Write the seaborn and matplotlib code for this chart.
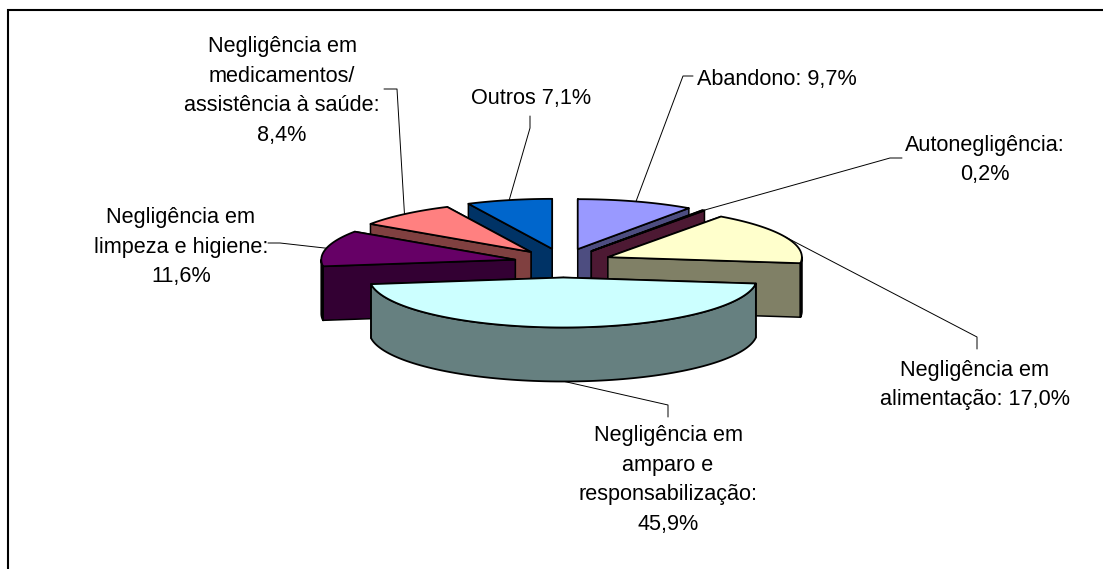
import numpy as np
import seaborn as sns
import matplotlib.pyplot as plt

# share of each slice, clockwise from the top
categories = ['Abandono', 'Autonegligência', 'Negligência em alimentação',
              'Negligência em amparo e responsabilização',
              'Negligência em limpeza e higiene',
              'Negligência em medicamentos/assistência à saúde', 'Outros']
values = [9.7, 0.2, 17.0, 45.9, 11.6, 8.4, 7.1]
labels = ['Abandono: 9,7%', 'Autonegligência:\n0,2%',
          'Negligência em\nalimentação: 17,0%',
          'Negligência em\namparo e\nresponsabilização:\n45,9%',
          'Negligência em\nlimpeza e higiene:\n11,6%',
          'Negligência em\nmedicamentos/\nassistência à saúde:\n8,4%',
          'Outros 7,1%']
top_colors = ['#9999FF', '#993366', '#FFFFCC', '#CCFFFF', '#660066', '#FF8080', '#0066CC']
side_colors = ['#4D4D80', '#4D1933', '#808066', '#668080', '#330033', '#804040', '#003366']

# pie geometry, in pixels
cx, cy = 563, 263
rx, ry = 194, 50
depth = 54
explode_x, explode_y = 49, 14.5

label_pos = [(777, 79), (985, 160), (975, 385), (668, 480), (181, 247), (282, 91), (531, 98)]
leaders = [[(693, 76), (683, 76)], [(902, 158), (890, 158)], [(977, 349), (977, 337)],
           [(668, 417), (668, 405)], [(268, 243), (280, 243)], [(384, 89), (397, 89)],
           [(530, 116), (530, 128)]]

sns.set_theme(style="white")
plt.rcParams['font.family'] = ['Liberation Sans', 'DejaVu Sans']

fig = plt.figure(figsize=(11.03, 5.69), dpi=100)
ax = fig.add_axes([0, 0, 1, 1])
ax.set_xlim(0, 1103)
ax.set_ylim(569, 0)
ax.axis('off')

# the frame is cut off on the right and at the bottom
ax.plot([8, 8, 1103], [569, 10, 10], color='black', lw=1.5, solid_joinstyle='miter')

edges = np.cumsum([0] + values) / sum(values) * 2 * np.pi
mids = (edges[:-1] + edges[1:]) / 2
apex_x = cx + explode_x * np.sin(mids)
apex_y = cy - explode_y * np.cos(mids)


def rim(i, a):
    return apex_x[i] + rx * np.sin(a), apex_y[i] - ry * np.cos(a)


# back slices first
for i in np.argsort(apex_y):
    a0, a1 = edges[i], edges[i + 1]
    ax0, ay0 = apex_x[i], apex_y[i]

    # the two cut faces, the lower one last
    cuts = sorted([a0, a1], key=lambda a: -np.cos(a))
    for a in cuts:
        x, y = rim(i, a)
        ax.fill([ax0, x, x, ax0], [ay0, y, y + depth, ay0 + depth],
                fc=side_colors[i], ec='black', lw=1.1, joinstyle='round')

    # outer wall, only the part turned to the viewer
    lo, hi = max(a0, np.pi / 2), min(a1, 3 * np.pi / 2)
    if hi > lo:
        t = np.linspace(lo, hi, 100)
        x, y = rim(i, t)
        ax.fill(np.r_[x, x[::-1]], np.r_[y, y[::-1] + depth],
                fc=side_colors[i], ec='black', lw=1.3, joinstyle='round')

    t = np.linspace(a0, a1, 100)
    x, y = rim(i, t)
    ax.fill(np.r_[ax0, x], np.r_[ay0, y], fc=top_colors[i], ec='black', lw=1.3, joinstyle='round')

    # leader line and label
    a = mids[i]
    ex, ey = rim(i, a)
    if np.cos(a) < 0:
        ey = ey + depth
    pts = leaders[i] + [(ex, ey)]
    ax.plot([p[0] for p in pts], [p[1] for p in pts], color='black', lw=0.7, zorder=1)
    ax.text(label_pos[i][0], label_pos[i][1], labels[i], ha='center', va='center',
            fontsize=15.6, color='black', linespacing=1.53)

fig.savefig('out.png', dpi=100)
